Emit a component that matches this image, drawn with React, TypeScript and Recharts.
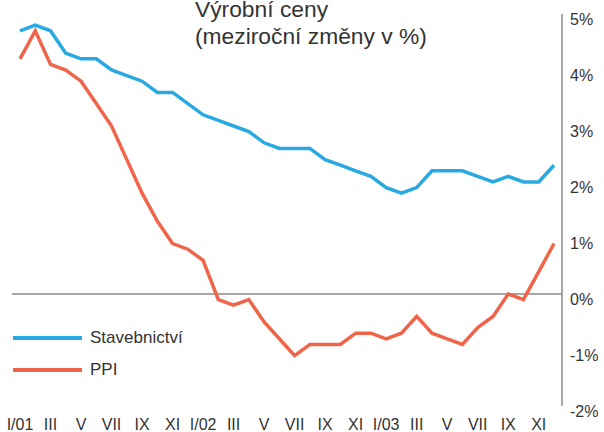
import { Line, LineChart, ReferenceLine, XAxis, YAxis } from 'recharts';

const months = [
  'I/01', 'II', 'III', 'IV', 'V', 'VI', 'VII', 'VIII', 'IX', 'X', 'XI', 'XII',
  'I/02', 'II', 'III', 'IV', 'V', 'VI', 'VII', 'VIII', 'IX', 'X', 'XI', 'XII',
  'I/03', 'II', 'III', 'IV', 'V', 'VI', 'VII', 'VIII', 'IX', 'X', 'XI', 'XII',
];

const stavebnictvi = [
  4.7, 4.8, 4.7, 4.3, 4.2, 4.2, 4.0, 3.9, 3.8, 3.6, 3.6, 3.4,
  3.2, 3.1, 3.0, 2.9, 2.7, 2.6, 2.6, 2.6, 2.4, 2.3, 2.2, 2.1,
  1.9, 1.8, 1.9, 2.2, 2.2, 2.2, 2.1, 2.0, 2.1, 2.0, 2.0, 2.3,
];

const ppi = [
  4.2, 4.7, 4.1, 4.0, 3.8, 3.4, 3.0, 2.4, 1.8, 1.3, 0.9, 0.8,
  0.6, -0.1, -0.2, -0.1, -0.5, -0.8, -1.1, -0.9, -0.9, -0.9, -0.7, -0.7,
  -0.8, -0.7, -0.4, -0.7, -0.8, -0.9, -0.6, -0.4, 0.0, -0.1, 0.4, 0.9,
];

const yTicks = [-2, -1, 0, 1, 2, 3, 4, 5];

const BLUE = '#29a9e1';
const ORANGE = '#f0654a';
const TEXT = '#333333';
const GREY = '#8a8a8a';
const FONT = '"Liberation Sans", Arial, sans-serif';

const data = months.map((month, i) => ({
  month,
  stavebnictvi: stavebnictvi[i],
  ppi: ppi[i],
}));

const legendRows = [
  { name: 'Stavebnictví', color: BLUE },
  { name: 'PPI', color: ORANGE },
];

function XTick({ x, y, payload }: any) {
  return (
    <text x={x} y={y} dy={16} textAnchor="middle" fontSize={16} fill={TEXT} fontFamily={FONT}>
      {payload.value}
    </text>
  );
}

function YTick({ x, y, payload }: any) {
  return (
    <text x={x} y={y} dy={11} textAnchor="start" fontSize={16} fill={TEXT} fontFamily={FONT}>
      {`${payload.value}%`}
    </text>
  );
}

export default function App() {
  return (
    <div style={{ position: 'absolute', left: 0, top: 0, width: 604, height: 432, background: '#fff' }}>
      <LineChart width={604} height={432} data={data} margin={{ top: 14, right: 0, bottom: 0, left: 12 }}>
        <XAxis
          dataKey="month"
          interval={1}
          axisLine={false}
          tickLine={false}
          padding={{ left: 8, right: 8 }}
          height={26}
          tick={<XTick />}
        />
        <YAxis
          orientation="right"
          domain={[-2, 5]}
          ticks={yTicks}
          width={42}
          tickLine={false}
          axisLine={{ stroke: GREY, strokeWidth: 1.5 }}
          tick={<YTick />}
        />
        <ReferenceLine y={0} stroke={GREY} strokeWidth={1.5} />
        <Line
          type="linear"
          dataKey="stavebnictvi"
          name="Stavebnictví"
          stroke={BLUE}
          strokeWidth={3.5}
          dot={false}
          isAnimationActive={false}
        />
        <Line
          type="linear"
          dataKey="ppi"
          name="PPI"
          stroke={ORANGE}
          strokeWidth={3.5}
          dot={false}
          isAnimationActive={false}
        />
      </LineChart>
      {/* legend, drawn over the plot like in the original */}
      <div style={{ position: 'absolute', left: 13, top: 322, fontFamily: FONT, fontSize: 17, color: TEXT }}>
        {legendRows.map((row) => (
          <div key={row.name} style={{ display: 'flex', alignItems: 'center', height: 32 }}>
            <span style={{ width: 69, height: 4, background: row.color, marginRight: 8 }} />
            <span>{row.name}</span>
          </div>
        ))}
      </div>
      <div
        style={{
          position: 'absolute',
          left: 195,
          top: -4,
          fontFamily: FONT,
          fontSize: 22.8,
          lineHeight: '26.6px',
          color: TEXT,
          whiteSpace: 'nowrap',
        }}
      >
        Výrobní ceny
        <br />
        (meziroční změny v %)
      </div>
    </div>
  );
}
